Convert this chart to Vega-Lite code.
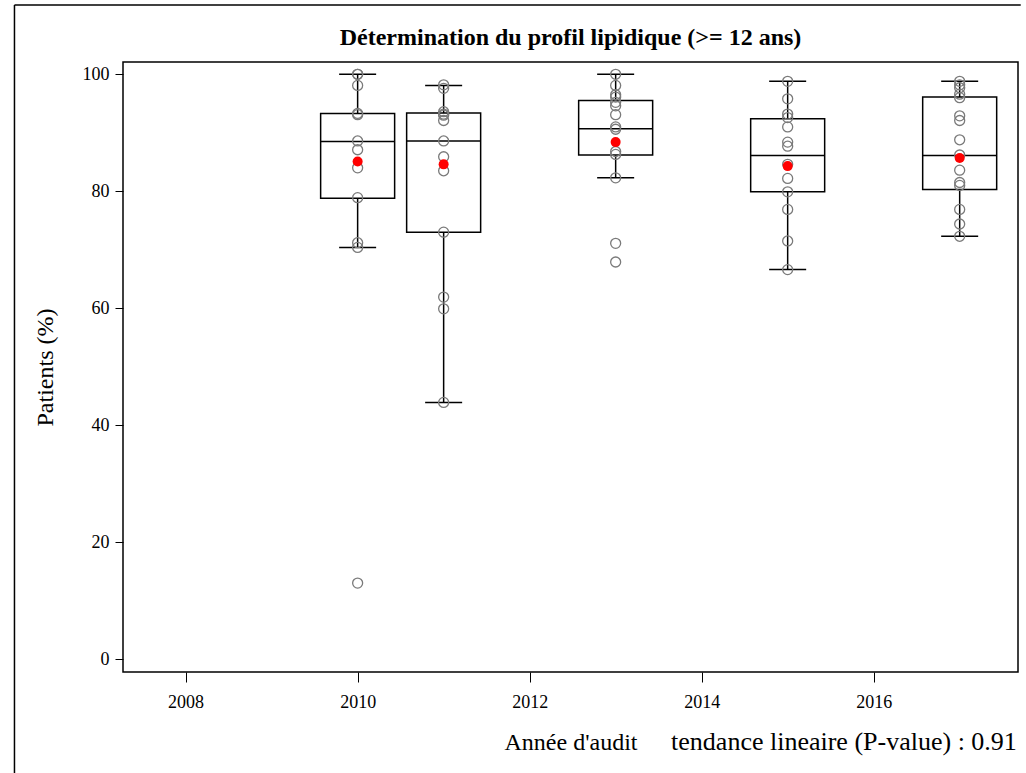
{
  "$schema": "https://vega.github.io/schema/vega-lite/v6.json",
  "width": 895,
  "height": 610,
  "autosize": {"type": "none"},
  "padding": {"left": 123, "top": 62, "right": 8, "bottom": 101},
  "background": "white",
  "config": {
    "font": "Liberation Serif",
    "view": {"stroke": "black", "strokeWidth": 1.5},
    "axis": {"grid": false, "domain": false, "tickColor": "black", "labelColor": "black", "titleColor": "black", "labelFont": "Liberation Serif", "titleFont": "Liberation Serif", "titleFontWeight": "normal"}
  },
  "title": {
    "text": "Détermination du profil lipidique (>= 12 ans)",
    "font": "Liberation Serif",
    "fontSize": 24,
    "fontWeight": "bold",
    "color": "black",
    "anchor": "middle",
    "baseline": "bottom",
    "offset": -70
  },
  "datasets": {
    "points": [
      {"year": 2010, "value": 100}, {"year": 2010, "value": 100}, {"year": 2010, "value": 98.1},
      {"year": 2010, "value": 93.3}, {"year": 2010, "value": 93.1}, {"year": 2010, "value": 88.6},
      {"year": 2010, "value": 87.1}, {"year": 2010, "value": 84.0}, {"year": 2010, "value": 78.9},
      {"year": 2010, "value": 71.2}, {"year": 2010, "value": 70.4}, {"year": 2010, "value": 13.0},
      {"year": 2011, "value": 98.2}, {"year": 2011, "value": 97.6}, {"year": 2011, "value": 93.6},
      {"year": 2011, "value": 93.2}, {"year": 2011, "value": 93.0}, {"year": 2011, "value": 92.1},
      {"year": 2011, "value": 88.6}, {"year": 2011, "value": 85.9}, {"year": 2011, "value": 83.5},
      {"year": 2011, "value": 73.0}, {"year": 2011, "value": 61.9}, {"year": 2011, "value": 59.9},
      {"year": 2011, "value": 43.9},
      {"year": 2013, "value": 100}, {"year": 2013, "value": 98.1}, {"year": 2013, "value": 96.5},
      {"year": 2013, "value": 96.1}, {"year": 2013, "value": 95.2}, {"year": 2013, "value": 94.6},
      {"year": 2013, "value": 93.1}, {"year": 2013, "value": 91.0}, {"year": 2013, "value": 90.6},
      {"year": 2013, "value": 86.8}, {"year": 2013, "value": 86.3}, {"year": 2013, "value": 82.3},
      {"year": 2013, "value": 71.1}, {"year": 2013, "value": 67.9},
      {"year": 2015, "value": 98.8}, {"year": 2015, "value": 95.8}, {"year": 2015, "value": 93.2},
      {"year": 2015, "value": 92.6}, {"year": 2015, "value": 91.0}, {"year": 2015, "value": 88.4},
      {"year": 2015, "value": 87.7}, {"year": 2015, "value": 84.6}, {"year": 2015, "value": 82.2},
      {"year": 2015, "value": 79.9}, {"year": 2015, "value": 76.9}, {"year": 2015, "value": 71.5},
      {"year": 2015, "value": 66.6},
      {"year": 2017, "value": 98.8}, {"year": 2017, "value": 98.2}, {"year": 2017, "value": 97.7},
      {"year": 2017, "value": 96.6}, {"year": 2017, "value": 96.0}, {"year": 2017, "value": 92.9},
      {"year": 2017, "value": 92.1}, {"year": 2017, "value": 88.8}, {"year": 2017, "value": 86.2},
      {"year": 2017, "value": 83.6}, {"year": 2017, "value": 81.5}, {"year": 2017, "value": 81.0},
      {"year": 2017, "value": 76.9}, {"year": 2017, "value": 74.4}, {"year": 2017, "value": 72.3}
    ],
    "boxes": [
      {"year": 2010, "lower": 70.4, "q1": 78.8, "median": 88.5, "q3": 93.3, "upper": 100, "mean": 85.1},
      {"year": 2011, "lower": 43.9, "q1": 73.0, "median": 88.6, "q3": 93.4, "upper": 98.1, "mean": 84.6},
      {"year": 2013, "lower": 82.3, "q1": 86.2, "median": 90.7, "q3": 95.5, "upper": 100, "mean": 88.4},
      {"year": 2015, "lower": 66.6, "q1": 79.9, "median": 86.1, "q3": 92.4, "upper": 98.8, "mean": 84.3},
      {"year": 2017, "lower": 72.3, "q1": 80.3, "median": 86.1, "q3": 96.1, "upper": 98.8, "mean": 85.7}
    ],
    "note": [
      {"label": "tendance lineaire (P-value) : 0.91", "year": 2017.665, "pos": -14.2}
    ],
    "frame": [
      {"x1": 2006.01, "x2": 2017.71, "y1": 111.85, "y2": 111.85},
      {"x1": 2006.01, "x2": 2006.01, "y1": 111.85, "y2": -19.5}
    ]
  },
  "encoding": {
    "x": {
      "field": "year",
      "type": "quantitative",
      "scale": {"domain": [2007.33, 2017.62], "nice": false, "zero": false},
      "axis": {
        "values": [2008, 2010, 2012, 2014, 2016],
        "format": "d",
        "title": "Année d'audit",
        "tickSize": 10,
        "tickWidth": 1,
        "labelFontSize": 18,
        "labelPadding": 11,
        "titleFontSize": 24,
        "titlePadding": 19
      }
    }
  },
  "layer": [
    {
      "data": {"name": "boxes"},
      "mark": {"type": "rule", "color": "black", "strokeWidth": 1.5},
      "encoding": {
        "y": {
          "field": "lower",
          "type": "quantitative",
          "scale": {"domain": [-2.2, 102.1], "nice": false, "zero": false},
          "axis": {
            "values": [0, 20, 40, 60, 80, 100],
            "title": "Patients (%)",
            "tickSize": 8,
            "tickWidth": 1,
            "labelFontSize": 18,
            "labelPadding": 6,
            "titleFontSize": 24,
            "titlePadding": 25
          }
        },
        "y2": {"field": "upper"}
      }
    },
    {
      "data": {"name": "boxes"},
      "mark": {"type": "bar", "size": 74, "fill": "white", "stroke": "black", "strokeWidth": 1.5},
      "encoding": {
        "y": {"field": "q1", "type": "quantitative"},
        "y2": {"field": "q3"}
      }
    },
    {
      "data": {"name": "boxes"},
      "mark": {"type": "tick", "orient": "horizontal", "size": 74, "thickness": 1.5, "color": "black", "opacity": 1},
      "encoding": {"y": {"field": "median", "type": "quantitative"}}
    },
    {
      "data": {"name": "boxes"},
      "mark": {"type": "tick", "orient": "horizontal", "size": 37, "thickness": 1.5, "color": "black", "opacity": 1},
      "encoding": {"y": {"field": "lower", "type": "quantitative"}}
    },
    {
      "data": {"name": "boxes"},
      "mark": {"type": "tick", "orient": "horizontal", "size": 37, "thickness": 1.5, "color": "black", "opacity": 1},
      "encoding": {"y": {"field": "upper", "type": "quantitative"}}
    },
    {
      "data": {"name": "points"},
      "mark": {"type": "point", "shape": "circle", "size": 100, "filled": false, "stroke": "#7a7a7a", "strokeWidth": 1.3, "opacity": 1},
      "encoding": {"y": {"field": "value", "type": "quantitative"}}
    },
    {
      "data": {"name": "boxes"},
      "mark": {"type": "point", "shape": "circle", "size": 100, "filled": true, "color": "#ff0000", "opacity": 1},
      "encoding": {"y": {"field": "mean", "type": "quantitative"}}
    },
    {
      "data": {"name": "note"},
      "mark": {"type": "text", "align": "right", "baseline": "middle", "fontSize": 26, "font": "Liberation Serif", "color": "black"},
      "encoding": {
        "y": {"field": "pos", "type": "quantitative"},
        "text": {"field": "label"}
      }
    },
    {
      "data": {"name": "frame"},
      "mark": {"type": "rule", "color": "black", "strokeWidth": 1.5},
      "encoding": {
        "x": {"field": "x1", "type": "quantitative"},
        "x2": {"field": "x2"},
        "y": {"field": "y1", "type": "quantitative"},
        "y2": {"field": "y2"}
      }
    }
  ]
}
